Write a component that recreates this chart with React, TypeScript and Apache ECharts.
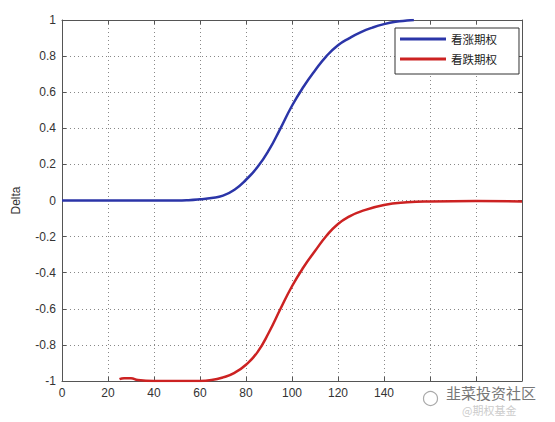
import React, { useEffect, useRef } from "react";
import * as echarts from "echarts";

const callX = [0, 20, 40, 50, 55, 60, 65, 70, 75, 80, 85, 90, 95, 100, 105, 110, 115, 120, 125, 130, 135, 140, 145, 150, 153];
const callY = [0, 0, 0, 0, 0.002, 0.007, 0.014, 0.027, 0.06, 0.115, 0.185, 0.28, 0.4, 0.525, 0.63, 0.72, 0.8, 0.86, 0.9, 0.933, 0.958, 0.977, 0.99, 0.997, 1.0];
const putX = [25, 27, 30, 33, 40, 50, 60, 65, 70, 75, 80, 85, 90, 95, 100, 105, 110, 115, 120, 125, 130, 140, 150, 160, 180, 200];
const putY = [-0.99, -0.985, -0.985, -0.995, -1, -1, -1, -0.995, -0.98, -0.955, -0.91, -0.84, -0.73, -0.6, -0.475, -0.37, -0.28, -0.195, -0.13, -0.088, -0.06, -0.025, -0.01, -0.005, -0.003, -0.005];
const seriesNames = ["看涨期权", "看跌期权"];
const yAxisName = "Delta";
const watermark = "韭菜投资社区";
const watermark2 = "@期权基金";

export default function App() {
  const ref = useRef<HTMLDivElement>(null);
  useEffect(() => {
    document.body.style.margin = "0";
    if (!ref.current) return;
    const chart = echarts.init(ref.current, null, { renderer: "svg" });
    const axisColor = "#555";
    const labelStyle = { color: "#333", fontSize: 12, fontFamily: "Liberation Sans, Arial, sans-serif" };
    chart.setOption({
      animation: false,
      backgroundColor: "#fff",
      grid: { left: 62, right: 33, top: 20, bottom: 41, show: false },
      legend: {
        left: 395,
        top: 28,
        orient: "vertical",
        icon: "rect",
        itemWidth: 46,
        itemHeight: 3,
        itemGap: 6,
        itemTextGap: 4,
        padding: [4, 22, 8, 5],
        backgroundColor: "#fff",
        borderColor: "#333",
        borderWidth: 1,
        textStyle: { fontSize: 11.5, lineHeight: 14, color: "#222", fontFamily: "Noto Sans CJK SC" },
        data: seriesNames,
      },
      xAxis: [
        {
          type: "value",
          min: 0,
          max: 200,
          interval: 20,
          axisLine: { show: true, onZero: false, lineStyle: { color: axisColor, width: 1 } },
          axisTick: { show: true, inside: true, length: 4, lineStyle: { color: axisColor } },
          axisLabel: { ...labelStyle, margin: 6, formatter: (v: number) => (v >= 160 ? "" : String(v)) },
          splitLine: { show: true, lineStyle: { color: "#888", type: [1, 3], width: 1 } },
        },
        {
          type: "value",
          position: "top",
          min: 0,
          max: 200,
          interval: 20,
          axisLine: { show: true, onZero: false, lineStyle: { color: axisColor, width: 1 } },
          axisTick: { show: true, inside: true, length: 4, lineStyle: { color: axisColor } },
          axisLabel: { show: false },
          splitLine: { show: false },
        },
      ],
      yAxis: [
        {
          type: "value",
          min: -1,
          max: 1,
          interval: 0.2,
          name: yAxisName,
          nameLocation: "middle",
          nameGap: 40,
          nameRotate: 90,
          nameTextStyle: { color: "#333", fontSize: 12, fontFamily: "Liberation Sans, Arial, sans-serif" },
          axisLine: { show: true, onZero: false, lineStyle: { color: axisColor, width: 1 } },
          axisTick: { show: true, inside: true, length: 4, lineStyle: { color: axisColor } },
          axisLabel: { ...labelStyle, margin: 6, formatter: (v: number) => String(Math.round(v * 10) / 10) },
          splitLine: { show: true, lineStyle: { color: "#888", type: [1, 3], width: 1 } },
        },
        {
          type: "value",
          position: "right",
          min: -1,
          max: 1,
          interval: 0.2,
          axisLine: { show: true, onZero: false, lineStyle: { color: axisColor, width: 1 } },
          axisTick: { show: true, inside: true, length: 4, lineStyle: { color: axisColor } },
          axisLabel: { show: false },
          splitLine: { show: false },
        },
      ],
      series: [
        {
          name: seriesNames[0],
          type: "line",
          smooth: 0.5,
          showSymbol: false,
          color: "#2b35a8",
          lineStyle: { width: 2.5, color: "#2b35a8" },
          data: callX.map((x, i) => [x, callY[i]]),
        },
        {
          name: seriesNames[1],
          type: "line",
          smooth: 0.5,
          showSymbol: false,
          color: "#cc2222",
          lineStyle: { width: 2.5, color: "#cc2222" },
          data: putX.map((x, i) => [x, putY[i]]),
        },
      ],
      graphic: [
        { type: "circle", left: 421, top: 389, shape: { r: 7 }, style: { fill: "none", stroke: "#aaa", lineWidth: 1.2 }, z: 101 },
        { type: "text", left: 446, top: 385, style: { text: watermark, fill: "#777", font: "15px 'Noto Sans CJK SC'" }, z: 101 },
        { type: "text", left: 462, top: 404, style: { text: watermark2, fill: "#ccc", font: "11px 'Noto Sans CJK SC'" }, z: 101 },
      ],
    });
    return () => chart.dispose();
  }, []);
  return <div ref={ref} style={{ width: 555, height: 422 }} />;
}
